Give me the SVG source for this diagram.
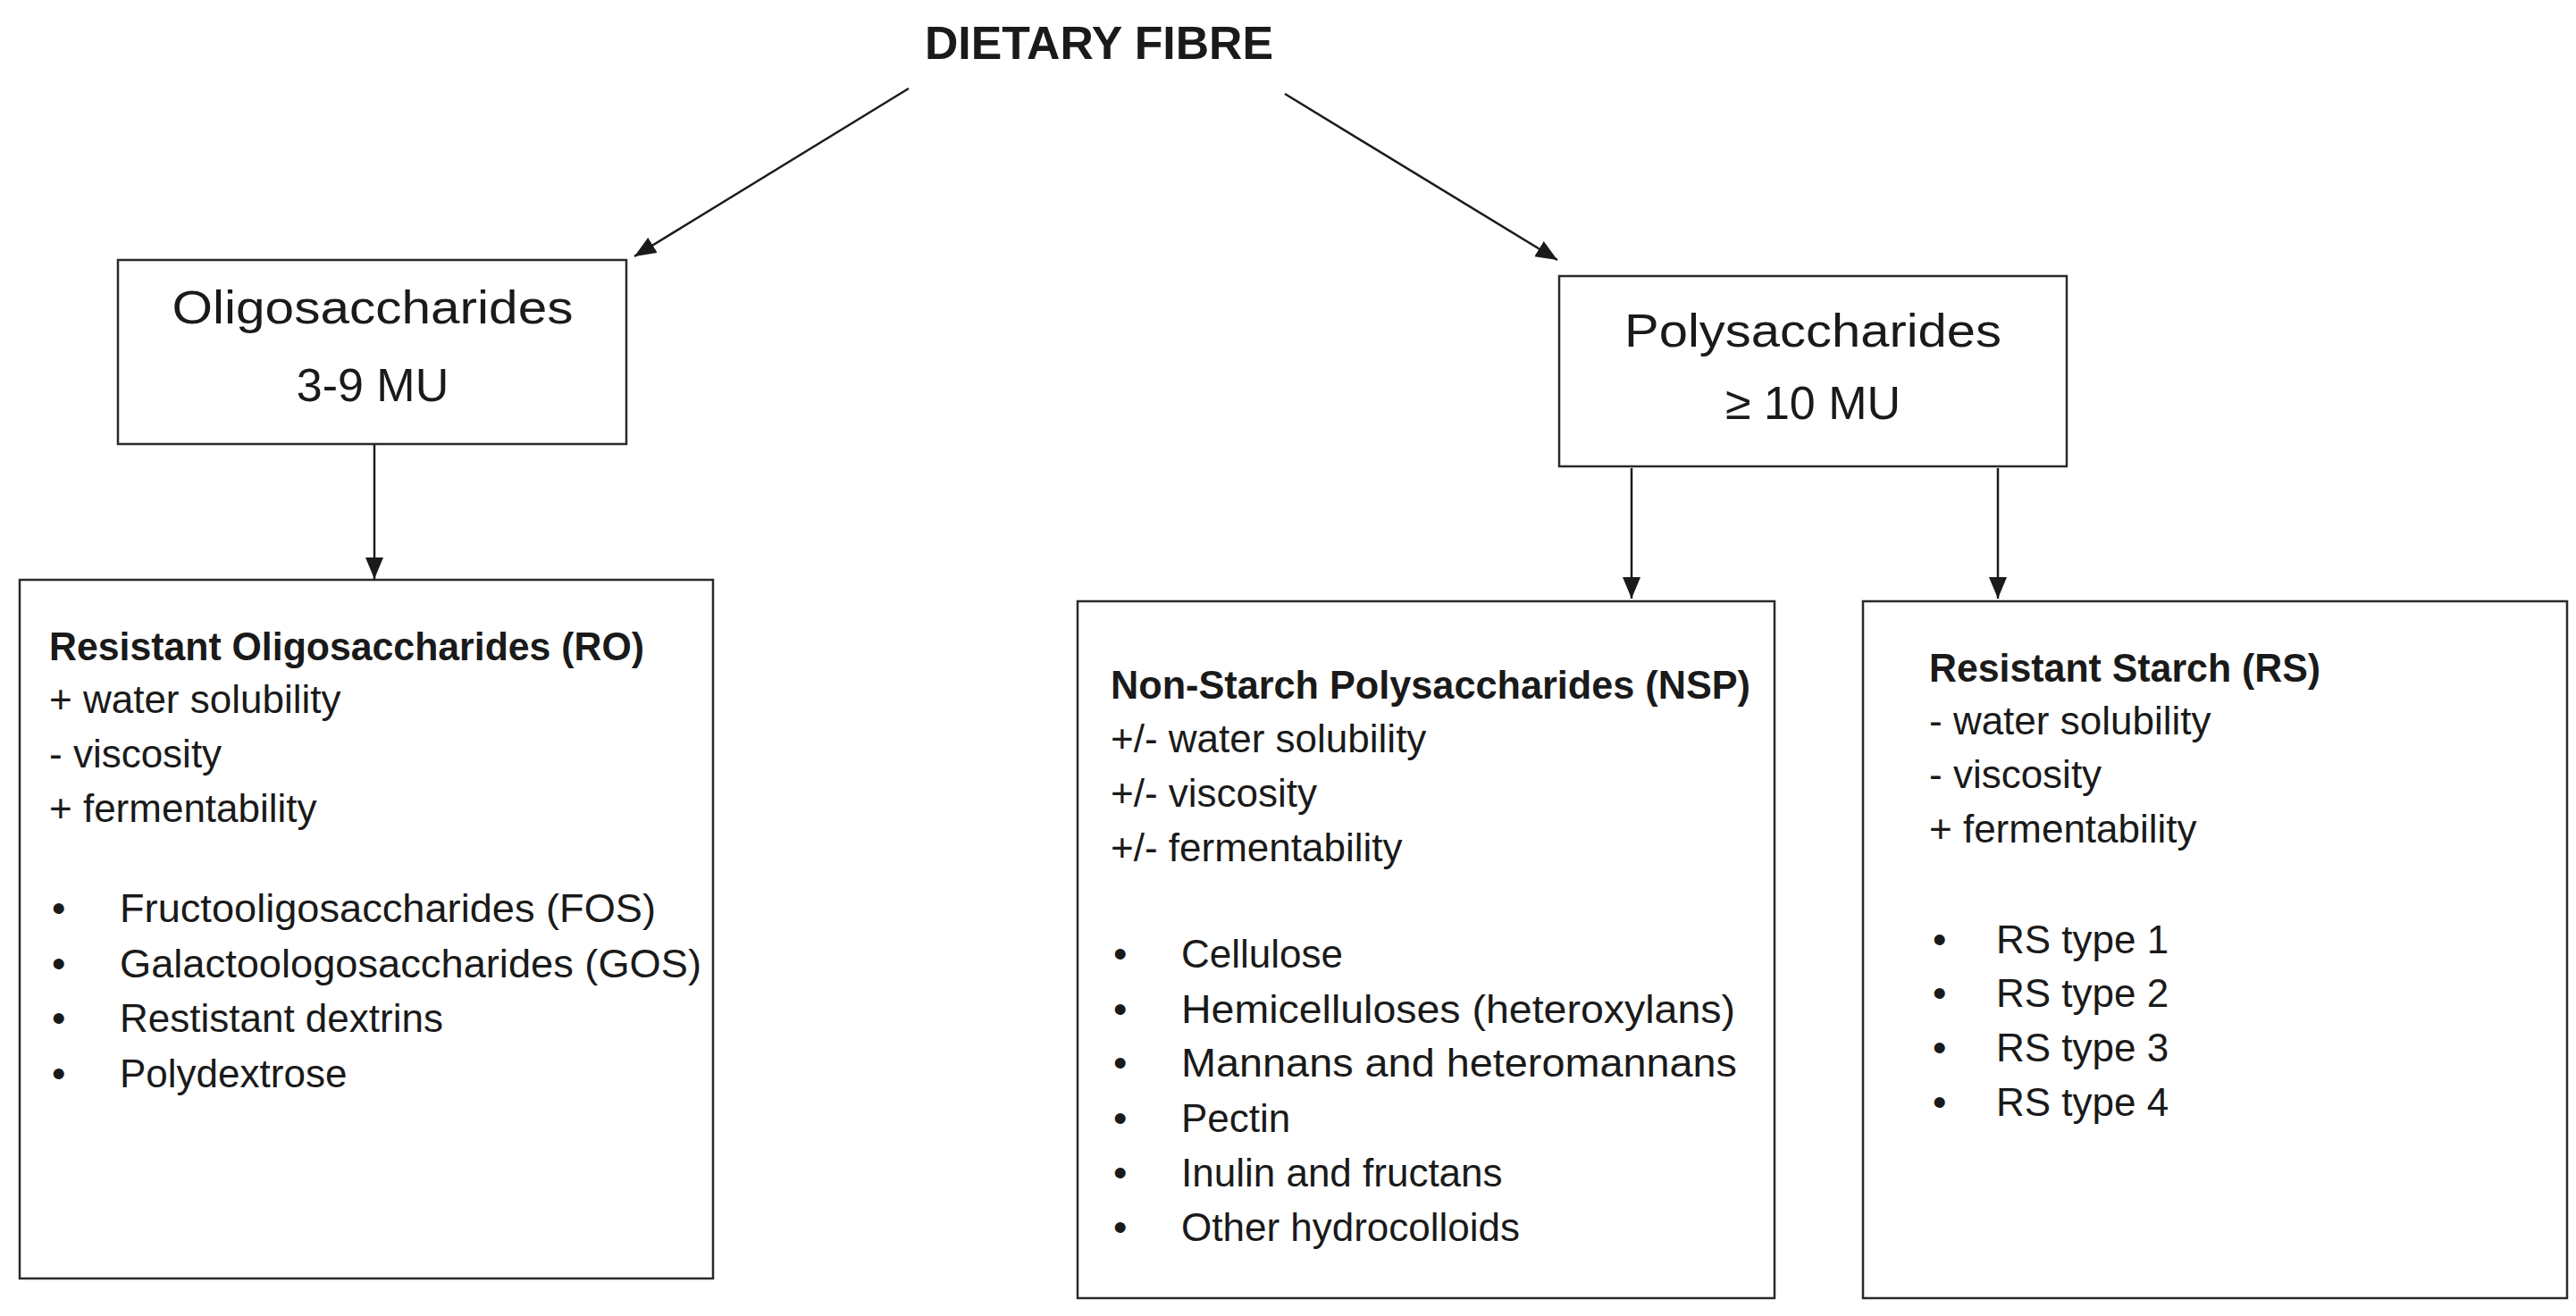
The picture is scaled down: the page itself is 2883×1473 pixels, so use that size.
<svg xmlns="http://www.w3.org/2000/svg" width="2883" height="1473" viewBox="0 0 2883 1473">
<style>
text{font-family:"Liberation Sans",Arial,sans-serif;fill:#1a1a1a}
.t{font-size:44px}
.b{font-size:44px;font-weight:bold}
.h{font-size:52px;text-anchor:middle}
.box{fill:#fff;stroke:#2a2a2a;stroke-width:2.5}
.c{stroke:#1a1a1a;stroke-width:2.5;fill:none;marker-end:url(#ah)}
</style>
<defs>
<marker id="ah" viewBox="0 0 10 10" refX="10" refY="5" markerWidth="10" markerHeight="10" markerUnits="userSpaceOnUse" orient="auto"><path d="M0,0 L10,5 L0,10 z" fill="#1a1a1a" transform="scale(1)"/></marker>
</defs>
<rect width="2883" height="1473" fill="#fff"/>
<g id="title"><text x="1230" y="66" font-size="52" font-weight="bold" text-anchor="middle" textLength="390" lengthAdjust="spacingAndGlyphs">DIETARY FIBRE</text></g>
<g id="connectors">
<line class="c" x1="1017" y1="99" x2="710" y2="287" style="marker-end:url(#ah2)"/>
<line class="c" x1="1438" y1="105" x2="1743" y2="291" style="marker-end:url(#ah2)"/>
<line class="c" x1="419" y1="497" x2="419" y2="648" style="marker-end:url(#ah2)"/>
<line class="c" x1="1826" y1="524" x2="1826" y2="670" style="marker-end:url(#ah2)"/>
<line class="c" x1="2236" y1="524" x2="2236" y2="670" style="marker-end:url(#ah2)"/>
</g>
<defs><marker id="ah2" viewBox="0 0 24 20" refX="24" refY="10" markerWidth="24" markerHeight="20" markerUnits="userSpaceOnUse" orient="auto"><path d="M0,0 L24,10 L0,20 z" fill="#1a1a1a"/></marker></defs>
<g id="oligo">
<rect class="box" x="132" y="291" width="569" height="206"/>
<text class="h" x="417" y="362" textLength="449" lengthAdjust="spacingAndGlyphs">Oligosaccharides</text>
<text class="h" x="417" y="449">3-9 MU</text>
</g>
<g id="poly">
<rect class="box" x="1745" y="309" width="568" height="213"/>
<text class="h" x="2029" y="388" textLength="422" lengthAdjust="spacingAndGlyphs">Polysaccharides</text>
<text class="h" x="2029" y="469">≥ 10 MU</text>
</g>
<g id="ro">
<rect class="box" x="22" y="649" width="776" height="782"/>
<text class="b" x="55" y="739" textLength="666" lengthAdjust="spacingAndGlyphs">Resistant Oligosaccharides (RO)</text>
<text class="t" x="55" y="798">+ water solubility</text>
<text class="t" x="55" y="859">- viscosity</text>
<text class="t" x="55" y="920">+ fermentability</text>
<text class="t" x="58" y="1032">•</text><text class="t" x="134" y="1032" textLength="600" lengthAdjust="spacingAndGlyphs">Fructooligosaccharides (FOS)</text>
<text class="t" x="58" y="1094">•</text><text class="t" x="134" y="1094" textLength="651" lengthAdjust="spacingAndGlyphs">Galactoologosaccharides (GOS)</text>
<text class="t" x="58" y="1155">•</text><text class="t" x="134" y="1155">Restistant dextrins</text>
<text class="t" x="58" y="1217">•</text><text class="t" x="134" y="1217">Polydextrose</text>
</g>
<g id="nsp">
<rect class="box" x="1206" y="673" width="780" height="780"/>
<text class="b" x="1243" y="782" textLength="716" lengthAdjust="spacingAndGlyphs">Non-Starch Polysaccharides (NSP)</text>
<text class="t" x="1243" y="842">+/- water solubility</text>
<text class="t" x="1243" y="903">+/- viscosity</text>
<text class="t" x="1243" y="964">+/- fermentability</text>
<text class="t" x="1246" y="1083">•</text><text class="t" x="1322" y="1083">Cellulose</text>
<text class="t" x="1246" y="1145">•</text><text class="t" x="1322" y="1145" textLength="620" lengthAdjust="spacingAndGlyphs">Hemicelluloses (heteroxylans)</text>
<text class="t" x="1246" y="1205">•</text><text class="t" x="1322" y="1205" textLength="622" lengthAdjust="spacingAndGlyphs">Mannans and heteromannans</text>
<text class="t" x="1246" y="1267">•</text><text class="t" x="1322" y="1267">Pectin</text>
<text class="t" x="1246" y="1328">•</text><text class="t" x="1322" y="1328">Inulin and fructans</text>
<text class="t" x="1246" y="1389">•</text><text class="t" x="1322" y="1389">Other hydrocolloids</text>
</g>
<g id="rs">
<rect class="box" x="2085" y="673" width="788" height="780"/>
<text class="b" x="2159" y="763" textLength="438" lengthAdjust="spacingAndGlyphs">Resistant Starch (RS)</text>
<text class="t" x="2159" y="822">- water solubility</text>
<text class="t" x="2159" y="882">- viscosity</text>
<text class="t" x="2159" y="943">+ fermentability</text>
<text class="t" x="2163" y="1067">•</text><text class="t" x="2234" y="1067">RS type 1</text>
<text class="t" x="2163" y="1127">•</text><text class="t" x="2234" y="1127">RS type 2</text>
<text class="t" x="2163" y="1188">•</text><text class="t" x="2234" y="1188">RS type 3</text>
<text class="t" x="2163" y="1249">•</text><text class="t" x="2234" y="1249">RS type 4</text>
</g>
</svg>
